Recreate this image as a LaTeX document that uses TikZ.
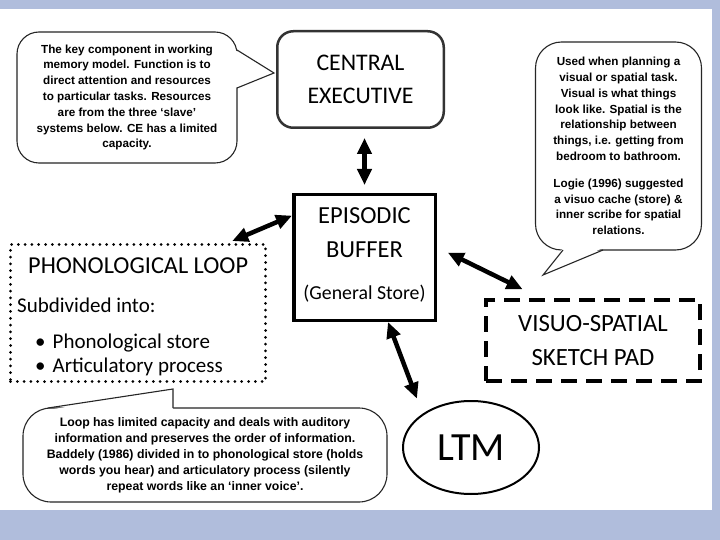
\documentclass[tikz,border=0pt]{standalone}
\usepackage{fontspec}
\setmainfont{Carlito}
\newfontfamily\notefont{Liberation Sans}
\usetikzlibrary{arrows.meta, positioning, shapes.geometric}
\definecolor{slideblue}{RGB}{176,189,220}
\tikzstyle{executive} = [rectangle, rounded corners=16pt, draw=black!80, line width=2.5pt, minimum width=166.5pt, minimum height=96.5pt, inner sep=0pt, align=center, font=\fontsize{23.8}{32.5}\selectfont]
\tikzstyle{buffer} = [rectangle, draw, line width=3.5pt, minimum width=141.5pt, minimum height=125.5pt, inner sep=0pt]
\tikzstyle{phonoloop} = [rectangle, draw, line width=3pt, line cap=round, dash pattern=on 0pt off 6.8pt, minimum width=255pt, minimum height=137pt, inner sep=0pt]
\tikzstyle{sketchpad} = [rectangle, draw, line width=4pt, dash pattern=on 16pt off 9pt, minimum width=214pt, minimum height=81pt, inner sep=0pt, align=center, font=\fontsize{24.8}{33.5}\selectfont]
\tikzstyle{longterm} = [ellipse, draw, line width=2pt, minimum width=136pt, minimum height=93pt, inner sep=0pt, font=\fontsize{40}{44}\selectfont]
\tikzstyle{label} = [inner sep=0pt, align=center]
\tikzstyle{note} = [rectangle, rounded corners=22pt, draw=black!85, line width=1.1pt, fill=white, inner sep=0pt, align=center, font=\notefont\bfseries\fontsize{11.7}{15.8}\selectfont]
\tikzstyle{notetail} = [draw=black!85, line width=1.1pt, line join=miter]
\tikzstyle{biarrow} = [line width=4.5pt, {Triangle[length=16pt,width=14pt]}-{Triangle[length=16pt,width=14pt]}]

\begin{document}
\begin{tikzpicture}[x=1pt, y=-1pt]
\useasboundingbox (0,0) rectangle (720,540);
% Slide background
\fill[slideblue] (0,0) rectangle (720,540);
\fill[white] (0,9) rectangle (712,510);

% Nodes
\node (ce) [executive] at (360.5,79.5) {CENTRAL\\EXECUTIVE};

\node (eb) [buffer] at (364.5,257.5) {};
\node (ebtitle) [label, below=14pt of eb.north, font=\fontsize{24.5}{34}\selectfont] {EPISODIC\\BUFFER};
\node (ebsub) [label, above=20pt of eb.south, font=\fontsize{19.8}{22}\selectfont] {(General Store)};

\node (pl) [phonoloop] at (138,313) {};
\node (pltitle) [label, anchor=base west, font=\fontsize{24.3}{26}\selectfont] at (28,273) {PHONOLOGICAL LOOP};
\node (plsub) [label, anchor=base west, font=\fontsize{21}{24}\selectfont] at (17,312) {Subdivided into:};
\node (plstore) [label, anchor=base west, font=\fontsize{21}{24}\selectfont] at (35,348) {\textbullet\hspace{7pt}Phonological store};
\node (plartic) [label, anchor=base west, font=\fontsize{21}{24}\selectfont] at (35,372) {\textbullet\hspace{7pt}Articulatory process};

\node (vssp) [sketchpad] at (593,340.5) {VISUO-SPATIAL\\SKETCH PAD};

\node (ltm) [longterm] at (471,447.5) {LTM};

% Notes
\node (cenote) [note, minimum width=220pt, minimum height=131pt] at (127,97.5)
{The key component in working\\ memory model. Function is to\\ direct attention and resources\\ to particular tasks. Resources\\ are from the three ‘slave’\\ systems below. CE has a limited\\ capacity.};
\node (vsnote) [note, rounded corners=26pt, minimum width=166pt, minimum height=208pt] at (618.5,146)
{Used when planning a\\ visual or spatial task.\\ Visual is what things\\ look like. Spatial is the\\ relationship between\\ things, i.e. getting from\\ bedroom to bathroom.\\[11pt] Logie (1996) suggested\\ a visuo cache (store) \&\\ inner scribe for spatial\\ relations.};
\node (plnote) [note, rounded corners=28pt, minimum width=364pt, minimum height=94pt, font=\notefont\bfseries\fontsize{12.3}{16}\selectfont] at (205,455)
{Loop has limited capacity and deals with auditory\\ information and preserves the order of information.\\ Baddely (1986) divided in to phonological store (holds\\ words you hear) and articulatory process (silently\\ repeat words like an ‘inner voice’.};

% Note pointers
\coordinate (cetip) at (274,73);
\fill[white] (235,50) -- (cetip) -- (235,88) -- cycle;
\draw[notetail] (237,50) -- (cetip) -- (237,88);
\coordinate (vstip) at (543,275);
\fill[white] (563,248) -- (vstip) -- (603,248) -- cycle;
\draw[notetail] (563,250) -- (vstip) -- (603,250);
\coordinate (pltip) at (173,389);
\fill[white] (48,410) -- (pltip) -- (173,410) -- cycle;
\draw[notetail] (48,408) -- (pltip) -- (173,408);

% Connections
\draw [biarrow, shorten <=9pt, shorten >=8pt] (ce.south -| eb.north) -- (eb.north);
\draw [biarrow, shorten >=5pt] (eb.150) -- (pl.38);
\draw [biarrow, shorten <=12pt, shorten >=20pt] (eb.8) -- (vssp.141);
\draw [biarrow, shorten >=16pt] (eb.290) -- (ltm.145);

\end{tikzpicture}
\end{document}
